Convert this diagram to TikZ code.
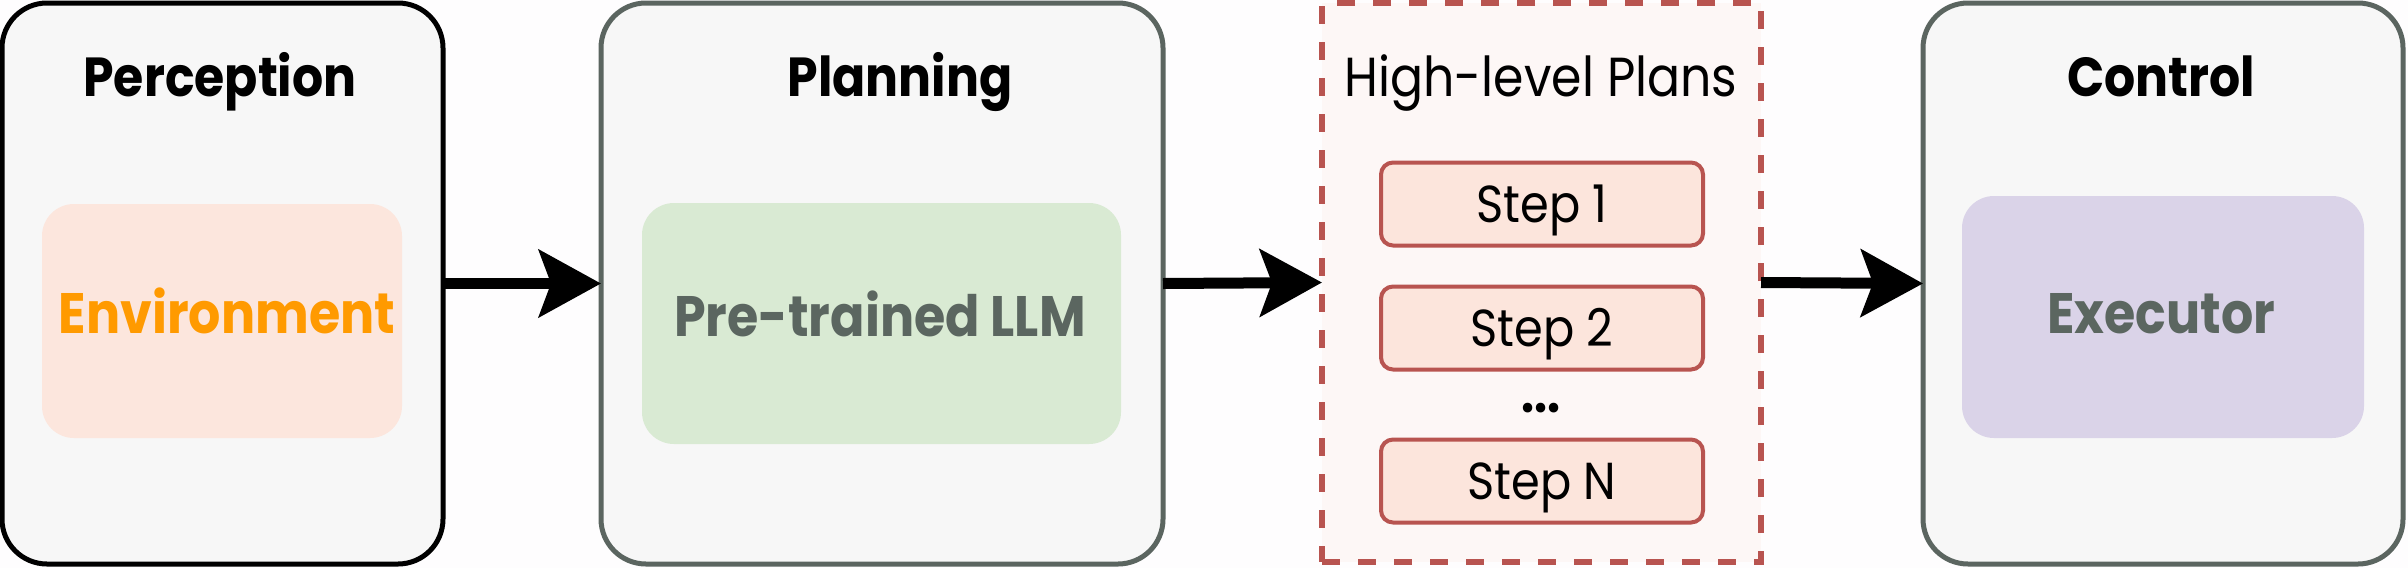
\documentclass[tikz,border=0pt]{standalone}
\usepackage{fontspec}
\setmainfont{Poppins}[FakeStretch=0.89]
\usetikzlibrary{arrows.meta}
\definecolor{pagebg}{HTML}{FEFDFE}
\definecolor{stagefill}{HTML}{F7F7F7}
\definecolor{stagedraw}{HTML}{5B6560}
\definecolor{planfill}{HTML}{FDF7F6}
\definecolor{plandraw}{HTML}{B85450}
\definecolor{envfill}{HTML}{FCE6DD}
\definecolor{envtext}{HTML}{FF9A00}
\definecolor{llmfill}{HTML}{D9EAD3}
\definecolor{execfill}{HTML}{DAD3E8}
\definecolor{graytext}{HTML}{5B6660}
\definecolor{stepfill}{HTML}{FCE5DC}
\tikzset{
  stage/.style={draw=stagedraw, line width=5pt, fill=stagefill, rounded corners=45pt,
    inner sep=0pt, outer sep=0pt, anchor=north west},
  innerbox/.style={rounded corners=32pt, inner sep=0pt, outer sep=0pt, anchor=north west},
  plansbox/.style={draw=plandraw, fill=planfill, line width=6pt, dash pattern=on 18pt off 18pt,
    inner sep=0pt, outer sep=0pt, anchor=north west},
  stepbox/.style={draw=plandraw, fill=stepfill, line width=4pt, rounded corners=12pt,
    minimum width=322pt, minimum height=83pt, inner sep=0pt, outer sep=0pt,
    text height=37pt, text depth=0pt, font=\fontsize{52}{60}\selectfont},
  title/.style={anchor=base, font=\fontsize{55}{66}\selectfont\bfseries},
  boxlabel/.style={anchor=base, font=\fontsize{57}{68}\selectfont\bfseries},
  conn/.style={line width=11pt, -{Stealth[length=62pt, width=67pt, inset=12pt]}},
}
\begin{document}
\begin{tikzpicture}[x=1pt, y=-1pt]
\useasboundingbox (0,0) rectangle (2408,568);
\fill[pagebg] (0,0) rectangle (2408,568);
% stages
\node[stage, draw=black, minimum width=441pt, minimum height=561pt] (perc) at (2,3) {};
\node[stage, minimum width=562pt, minimum height=561pt] (plan) at (601,3) {};
\node[plansbox, minimum width=439pt, minimum height=559pt] (plans) at (1322,3) {};
\node[stage, minimum width=480pt, minimum height=561pt] (ctrl) at (1923,3) {};
% titles
\node[title] (percT) at (220,96) {Perception};
\node[title] (planT) at (900,96) {Planning};
\node[anchor=base, font=\fontsize{55}{66}\selectfont] (plansT) at (1541,96) {High-level Plans};
\node[title] (ctrlT) at (2161,96) {Control};
% inner boxes
\node[innerbox, fill=envfill, minimum width=360pt, minimum height=234pt] (env) at (42,204) {};
\node[boxlabel, text=envtext] (envT) at (227,333) {Environment};
\node[innerbox, fill=llmfill, minimum width=479pt, minimum height=241pt] (llm) at (642,203) {};
\node[boxlabel, text=graytext] (llmT) at (880,336) {Pre-trained LLM};
\node[innerbox, fill=execfill, minimum width=402pt, minimum height=242pt] (exec) at (1962,196) {};
\node[boxlabel, text=graytext] (execT) at (2161,333) {Executor};
% steps
\node[stepbox] (s1) at (1542,204) {Step 1};
\node[stepbox] (s2) at (1542,328) {Step 2};
\node[font=\fontsize{52}{60}\selectfont\bfseries, anchor=base] (dots) at (1541,412) {...};
\node[stepbox] (sN) at (1542,481) {Step N};
% connectors
\draw[conn] (perc.east) -- (plan.west);
\draw[conn] (plan.east) -- (plans.west);
\draw[conn] (plans.east) -- (ctrl.west);
\end{tikzpicture}
\end{document}
